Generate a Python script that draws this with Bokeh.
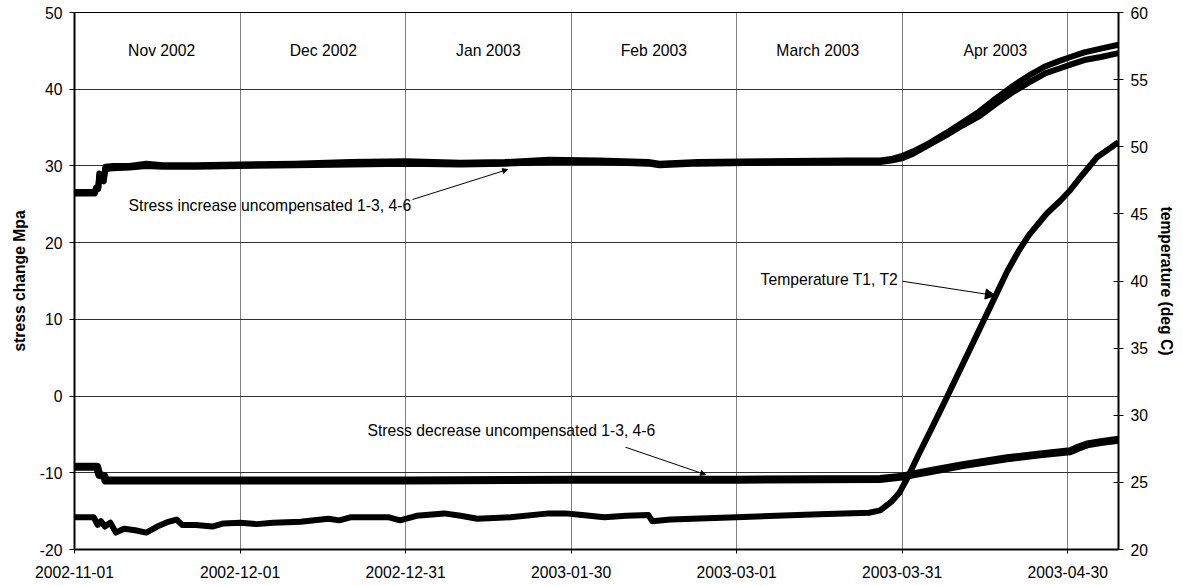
import math
import pandas as pd
from bokeh.plotting import figure
from bokeh.models import (Range1d, LinearAxis, FixedTicker, DatetimeTickFormatter,
                          PrintfTickFormatter, Label, Arrow, NormalHead)
from bokeh.embed import file_html
from bokeh.resources import INLINE

# ---------------- data (days since 2002-11-01) ----------------
START = "2002-11-01"
END_DAYS = 189.2

inc_a_days = [0, 3.7, 3.9, 4.3, 4.5, 4.9, 5.3, 5.6, 7, 10, 13, 16, 22, 30, 40, 50, 60, 70, 78,
              86, 95, 104, 106, 113, 125, 140, 146, 148, 150, 152, 155, 158, 161, 164, 167, 170,
              173, 176, 178.5, 180.5, 183, 186, 189.2]
inc_a_vals = [26.6, 26.6, 27.2, 27.2, 29.0, 28.7, 28.3, 29.9, 30.0, 30.0, 30.3, 30.1, 30.1, 30.2,
              30.3, 30.5, 30.6, 30.4, 30.5, 30.8, 30.7, 30.5, 30.3, 30.5, 30.6, 30.7, 30.7, 30.9,
              31.3, 31.9, 33.0, 34.3, 35.7, 37.1, 38.8, 40.4, 41.8, 43.0, 43.7, 44.2, 44.8, 45.3,
              45.8]

inc_b_days = [0, 3.7, 3.9, 4.3, 4.5, 4.9, 5.3, 5.6, 7, 10, 13, 16, 22, 30, 40, 50, 60, 70, 78,
              86, 95, 104, 106, 113, 125, 140, 146, 148, 150, 152, 155, 158, 161, 164, 167, 170,
              173, 176, 178.5, 180.5, 183, 186, 189.2]
inc_b_vals = [26.4, 26.4, 27.0, 27.0, 28.7, 28.4, 28.0, 29.6, 29.7, 29.8, 30.0, 29.9, 29.9, 30.0,
              30.1, 30.2, 30.3, 30.2, 30.3, 30.5, 30.5, 30.3, 30.1, 30.3, 30.4, 30.5, 30.5, 30.7,
              31.0, 31.6, 32.8, 34.0, 35.3, 36.5, 38.1, 39.6, 40.9, 42.1, 42.7, 43.2, 43.8, 44.2,
              44.7]

dec_days = [0, 4.1, 4.5, 5.4, 5.6, 30, 60, 90, 120, 146, 150, 152, 155, 161, 169, 175, 180.4,
            182, 183.5, 186, 189.2]
dec_vals = [-9.2, -9.2, -10.3, -10.4, -11.0, -11.0, -11.0, -10.9, -10.9, -10.8, -10.5, -10.2,
            -9.8, -9.0, -8.1, -7.6, -7.2, -6.7, -6.3, -6.0, -5.7]

temp_days = [0, 3.5, 4.2, 4.8, 5.5, 6.5, 7.5, 9, 11, 13, 15, 17, 18.5, 19.5, 22, 25, 27, 30, 33,
             36, 41, 46, 48, 50, 54, 57, 59, 62, 67, 70, 73, 79, 86, 89, 92, 96, 100, 104, 104.7,
             108, 120, 135, 144, 146, 148, 149.5, 151, 153, 155, 158, 161, 164, 167, 169, 171,
             173, 176.2, 178.7, 180.4, 182.3, 185.3, 187.5, 189.2]
temp_vals = [22.40, 22.40, 21.83, 22.11, 21.71, 22.00, 21.26, 21.54, 21.43, 21.26, 21.71, 22.06,
             22.23, 21.83, 21.83, 21.71, 21.94, 22.00, 21.89, 22.00, 22.06, 22.29, 22.17, 22.40,
             22.40, 22.40, 22.17, 22.51, 22.69, 22.51, 22.29, 22.40, 22.69, 22.69, 22.57, 22.40,
             22.51, 22.57, 22.11, 22.23, 22.40, 22.63, 22.74, 22.91, 23.54, 24.23, 25.37, 27.09,
             28.74, 31.26, 33.83, 36.40, 38.97, 40.69, 42.17, 43.43, 45.03, 46.00, 46.74, 47.73,
             49.22, 49.85, 50.34]

x_tick_dates = ["2002-11-01", "2002-12-01", "2002-12-31", "2003-01-30", "2003-03-01",
                "2003-03-31", "2003-04-30"]
left_ticks = [-20, -10, 0, 10, 20, 30, 40, 50]
right_ticks = [20, 25, 30, 35, 40, 45, 50, 55, 60]
month_names = ["Nov 2002", "Dec 2002", "Jan 2003", "Feb 2003", "March 2003", "Apr 2003"]
month_days = [15.8, 45.1, 75.0, 105.0, 134.7, 166.9]

# ---------------- helpers ----------------
start_ts = pd.Timestamp(START)


def ms(days):
    return [(start_ts + pd.Timedelta(days=float(d))).value / 1e6 for d in days]


def ms1(d):
    return ms([d])[0]


tick_ms = [pd.Timestamp(d).value / 1e6 for d in x_tick_dates]

FONT = "Liberation Sans"
FS = "15.7px"

p = figure(width=1177, height=584, x_axis_type="datetime",
           x_range=Range1d(ms1(0), ms1(END_DAYS)), y_range=Range1d(-20, 50),
           output_backend="svg", toolbar_location=None,
           min_border_left=74, min_border_right=59, min_border_top=12, min_border_bottom=35)
p.background_fill_color = "white"
p.border_fill_color = "white"
p.outline_line_color = "black"
p.outline_line_width = 1

p.extra_y_ranges = {"temp": Range1d(20, 60)}

# grids
p.ygrid.ticker = FixedTicker(ticks=left_ticks)
p.ygrid.grid_line_color = "#303030"
p.ygrid.grid_line_width = 1
p.xgrid.ticker = FixedTicker(ticks=tick_ms[1:])
p.xgrid.grid_line_color = "black"
p.xgrid.grid_line_dash = "1 1"
p.xgrid.grid_line_width = 1

# x axis
xa = p.xaxis[0]
xa.ticker = FixedTicker(ticks=tick_ms)
xa.formatter = DatetimeTickFormatter(days="%Y-%m-%d", months="%Y-%m-%d", years="%Y-%m-%d",
                                     hours="%Y-%m-%d", minutes="%Y-%m-%d")
xa.major_tick_out = 4
xa.major_tick_in = 0
xa.minor_tick_out = 0
xa.minor_tick_in = 0
xa.axis_line_width = 2
xa.major_label_standoff = 12
xa.major_label_text_font = FONT
xa.major_label_text_font_size = FS
xa.major_label_text_color = "black"

# left axis
ya = p.yaxis[0]
ya.ticker = FixedTicker(ticks=left_ticks)
ya.formatter = PrintfTickFormatter(format="%d")
ya.major_tick_out = 5
ya.major_tick_in = 0
ya.minor_tick_out = 0
ya.minor_tick_in = 0
ya.axis_line_width = 2
ya.major_label_standoff = 7
ya.major_label_text_font = FONT
ya.major_label_text_font_size = FS
ya.major_label_text_color = "black"
ya.axis_label = "stress change Mpa"
ya.axis_label_text_font = FONT
ya.axis_label_text_font_size = FS
ya.axis_label_text_font_style = "bold"
ya.axis_label_text_color = "black"
ya.axis_label_standoff = 9

# right axis
ra = LinearAxis(y_range_name="temp", ticker=FixedTicker(ticks=right_ticks),
                formatter=PrintfTickFormatter(format="%d"))
ra.major_tick_out = 5
ra.major_tick_in = 5
ra.minor_tick_out = 0
ra.minor_tick_in = 0
ra.axis_line_width = 2
ra.major_label_standoff = 7
ra.major_label_text_font = FONT
ra.major_label_text_font_size = FS
ra.major_label_text_color = "black"
ra.axis_label = "temperature (deg C)"
ra.axis_label_text_font = FONT
ra.axis_label_text_font_size = FS
ra.axis_label_text_font_style = "bold"
ra.axis_label_text_color = "black"
ra.axis_label_standoff = 7
ra.axis_label_orientation = "vertical"
p.add_layout(ra, "right")

# series
p.line(ms(inc_b_days), inc_b_vals, line_color="black", line_width=6, line_join="round")
p.line(ms(inc_a_days), inc_a_vals, line_color="black", line_width=6, line_join="round")
p.line(ms(dec_days), dec_vals, line_color="black", line_width=8, line_join="round")
p.line(ms(temp_days), temp_vals, line_color="black", line_width=6, line_join="round",
       y_range_name="temp")

# month labels
for name, d in zip(month_names, month_days):
    p.add_layout(Label(x=ms1(d), y=45.05, text=name, text_align="center",
                       text_baseline="middle", text_font=FONT, text_font_size=FS,
                       text_color="black"))

# annotations
p.add_layout(Label(x=ms1(9.8), y=24.84, text="Stress increase uncompensated 1-3, 4-6",
                   text_align="left", text_baseline="middle", text_font=FONT,
                   text_font_size=FS, text_color="black"))
p.add_layout(Label(x=ms1(53.1), y=-4.49, text="Stress decrease uncompensated 1-3, 4-6",
                   text_align="left", text_baseline="middle", text_font=FONT,
                   text_font_size=FS, text_color="black"))
p.add_layout(Label(x=ms1(149.3), y=15.2, text="Temperature T1, T2",
                   text_align="right", text_baseline="middle", text_font=FONT,
                   text_font_size=FS, text_color="black"))

p.add_layout(Arrow(x_start=ms1(61.25), y_start=25.62, x_end=ms1(78.5), y_end=29.53,
                   line_color="black", line_width=1,
                   end=NormalHead(size=5, fill_color="black", line_color="black")))
p.add_layout(Arrow(x_start=ms1(99.86), y_start=-6.67, x_end=ms1(114.35), y_end=-10.23,
                   line_color="black", line_width=1,
                   end=NormalHead(size=5, fill_color="black", line_color="black")))
p.add_layout(Arrow(x_start=ms1(150.05), y_start=14.97, x_end=ms1(166.9), y_end=13.1,
                   line_color="black", line_width=1,
                   end=NormalHead(size=10, fill_color="black", line_color="black")))

open("out.html", "w").write(file_html(p, INLINE))
